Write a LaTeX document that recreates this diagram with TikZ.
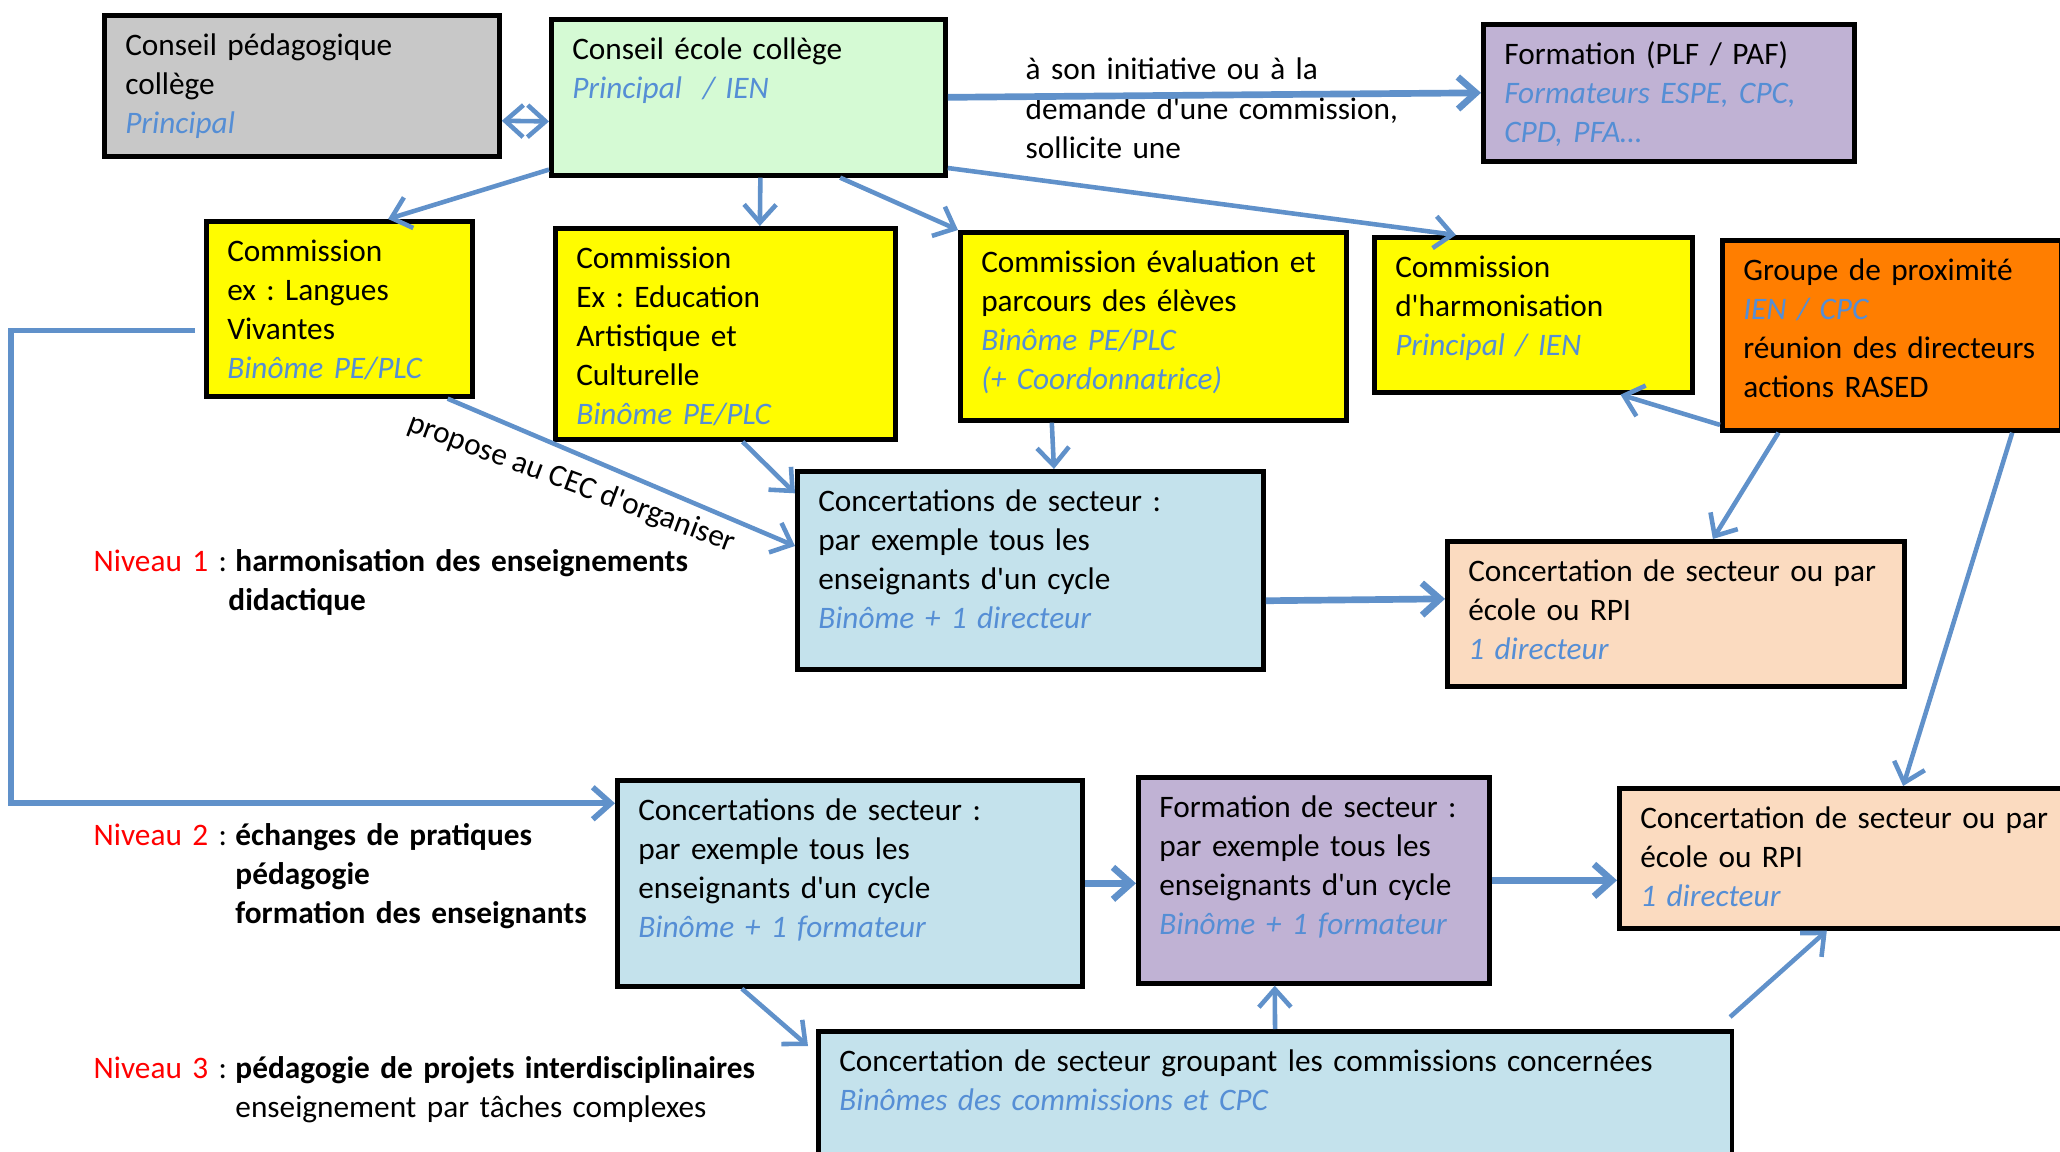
\documentclass[tikz,border=0pt]{standalone}
\usepackage{fontspec}
\newfontfamily\carlito{Carlito}
\usepackage{tikz}
\usetikzlibrary{arrows.meta, calc, positioning}
\usepackage{xcolor}

\definecolor{arrowblue}{RGB}{96,145,202}
\definecolor{roleblue}{RGB}{85,142,213}
\definecolor{cpcgray}{RGB}{200,200,200}
\definecolor{cecgreen}{RGB}{213,250,212}
\definecolor{formpurple}{RGB}{192,178,212}
\definecolor{comyellow}{RGB}{255,252,0}
\definecolor{proxorange}{RGB}{255,126,0}
\definecolor{concblue}{RGB}{196,226,236}
\definecolor{ecolepeach}{RGB}{251,219,192}

\newcommand{\who}[1]{{\color{roleblue}\itshape #1}}
\frenchspacing

\begin{document}
\begin{tikzpicture}[x=0.01cm, y=-0.01cm, font=\carlito\fontsize{8.9}{11.1}\selectfont]
\tikzstyle{box} = [rectangle, draw=black, line width=1.3pt, anchor=north west, align=left, inner xsep=0.21cm, inner ysep=0.15cm, text height=0.25cm]
\tikzstyle{level} = [anchor=base west, align=left, text width=9cm, inner sep=0pt]
\tikzstyle{arrow} = [draw=arrowblue, line width=1.3pt, ->, >={Straight Barb[length=1.8mm, width=3.2mm]}]
\tikzstyle{widearrow} = [arrow, line width=1.9pt]

\useasboundingbox (0,0) rectangle (2060,1152);

% Councils
\node (cpc) [box, fill=cpcgray, text width=3.53cm, text depth=0.86cm] at (102,13) {Conseil pédagogique\\collège\\\who{Principal}};
\node (cec) [box, fill=cecgreen, text width=3.52cm, text depth=1.01cm] at (549,17) {Conseil école collège\\\who{Principal\ \ / IEN}};
\node (form) [box, fill=formpurple, text width=3.29cm, text depth=0.82cm] at (1481,22) {Formation (PLF / PAF)\\\who{Formateurs ESPE, CPC,}\\\who{CPD, PFA…}};
\node (initiative) [level, text width=4cm] at (1025,80) {à son initiative ou à la\\demande d'une commission,\\sollicite une};

% Commissions
\node (comlv) [box, fill=comyellow, text width=2.24cm, text depth=1.20cm] at (204,219) {Commission\\ex : Langues\\Vivantes\\\who{Binôme PE/PLC}};
\node (comeac) [box, fill=comyellow, text width=2.98cm, text depth=1.56cm] at (553,226) {Commission\\Ex : Education\\Artistique et\\Culturelle\\\who{Binôme PE/PLC}};
\node (comeval) [box, fill=comyellow, text width=3.44cm, text depth=1.33cm] at (958,230) {Commission évaluation et\\parcours des élèves\\\who{Binôme PE/PLC}\\\who{(+ Coordonnatrice)}};
\node (comharm) [box, fill=comyellow, text width=2.76cm, text depth=1.00cm] at (1372,235) {Commission\\d'harmonisation\\\who{Principal / IEN}};
\node (gprox) [box, fill=proxorange, text width=2.97cm, text depth=1.35cm] at (1720,238) {Groupe de proximité\\\who{IEN / CPC}\\réunion des directeurs\\actions RASED};

% Niveau 1
\node (concsect1) [box, fill=concblue, text width=4.24cm, text depth=1.43cm] at (795,469) {Concertations de secteur :\\par exemple tous les\\enseignants d'un cycle\\\who{Binôme + 1 directeur}};
\node (concecole1) [box, fill=ecolepeach, text width=4.15cm, text depth=0.90cm] at (1445,539) {Concertation de secteur ou par\\école ou RPI\\\who{1 directeur}};
\node (niv1) [level] at (93,571) {\textcolor{red}{Niveau 1} :\hspace{-0.02cm} \begin{tabular}[t]{@{}l@{}}\textbf{harmonisation des enseignements}\\\hspace*{-0.07cm}\textbf{didactique}\end{tabular}};

% Niveau 2
\node (concsect2) [box, fill=concblue, text width=4.23cm, text depth=1.51cm] at (615,778) {Concertations de secteur :\\par exemple tous les\\enseignants d'un cycle\\\who{Binôme + 1 formateur}};
\node (formsect) [box, fill=formpurple, text width=3.09cm, text depth=1.51cm] at (1136,775) {Formation de secteur :\\par exemple tous les\\enseignants d'un cycle\\\who{Binôme + 1 formateur}};
\node (concecole2) [box, fill=ecolepeach, text width=4.3cm, text depth=0.85cm] at (1617,786) {Concertation de secteur ou par\\école ou RPI\\\who{1 directeur}};
\node (niv2) [level] at (93,845) {\textcolor{red}{Niveau 2} :\hspace{-0.02cm} \begin{tabular}[t]{@{}l@{}}\textbf{échanges de pratiques}\\\textbf{pédagogie}\\\textbf{formation des enseignants}\end{tabular}};

% Niveau 3
\node (concgroup) [box, fill=concblue, text width=8.71cm, text depth=0.85cm] at (816,1029) {Concertation de secteur groupant les commissions concernées\\\who{Binômes des commissions et CPC}};
\node (niv3) [level] at (93,1078) {\textcolor{red}{Niveau 3} :\hspace{-0.02cm} \begin{tabular}[t]{@{}l@{}}\textbf{pédagogie de projets interdisciplinaires}\\enseignement par tâches complexes\end{tabular}};

% Arrows from the Conseil école collège
\draw [arrow, <->] ($(cpc.north east)!0.74!(cpc.south east)$) -- ($(cec.north west)!0.65!(cec.south west)$);
\draw [widearrow] (cec.east) -- (form.west);
\draw [arrow] ($(cec.north east)!0.94!(cec.south east)$) -- ($(comharm.north west)!0.26!(comharm.north east)$);
\draw [arrow] ($(cec.north west)!0.95!(cec.south west)$) -- ($(comlv.north west)!0.68!(comlv.north east)$);
\draw [arrow] ($(cec.south west)!0.53!(cec.south east)$) -- ($(comeac.north west)!0.6!(comeac.north east)$);
\draw [arrow] ($(cec.south west)!0.73!(cec.south east)$) -- (comeval.north west);

% Arrows to the Niveau 1 concertations
\draw [arrow] ($(comlv.south west)!0.9!(comlv.south east)$) -- node[pos=0.4, xshift=-0.15cm, yshift=-0.26cm, rotate=-20.5] {propose au CEC d'organiser} ($(concsect1.north west)!0.38!(concsect1.south west)$);
\draw [arrow] ($(comeac.south west)!0.55!(comeac.south east)$) -- ($(concsect1.north west)!0.12!(concsect1.south west)$);
\draw [arrow] ($(comeval.south west)!0.24!(comeval.south east)$) -- ($(concsect1.north west)!0.55!(concsect1.north east)$);
\draw [widearrow] ($(concsect1.north east)!0.65!(concsect1.south east)$) -- ($(concecole1.north west)!0.4!(concecole1.south west)$);

% Arrows from the Groupe de proximite
\draw [arrow] ($(gprox.north west)!0.96!(gprox.south west)$) -- ($(comharm.south west)!0.77!(comharm.south east)$);
\draw [arrow] ($(gprox.south west)!0.17!(gprox.south east)$) -- ($(concecole1.north west)!0.58!(concecole1.north east)$);
\draw [arrow] ($(gprox.south west)!0.85!(gprox.south east)$) -- ($(concecole2.north west)!0.6!(concecole2.north east)$);

% Niveau 2 and 3 arrows
\draw [arrow, line width=1.6pt] ($(comlv.north west)!0.62!(comlv.south west)+(-9,0)$) -- ++(-184,0) |- ($(concsect2.north west)!0.12!(concsect2.south west)$);
\draw [arrow] ($(concsect2.south west)!0.27!(concsect2.south east)$) -- ($(concgroup.north west)+(-8,17)$);
\draw [widearrow] (concsect2.east) -- (concsect2.east -| formsect.west);
\draw [arrow] (concgroup.north) -- ($(formsect.south west)!0.39!(formsect.south east)$);
\draw [widearrow] (formsect.east) -- (formsect.east -| concecole2.west);
\draw [arrow] ($(concgroup.north east)+(-4,-12)$) -- ($(concecole2.south west)!0.44!(concecole2.south east)$);

\end{tikzpicture}
\end{document}
